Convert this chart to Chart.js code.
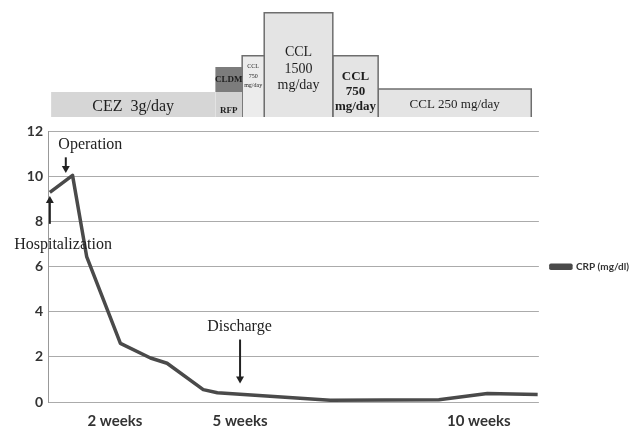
<!DOCTYPE html>
<html>
<head>
<meta charset="utf-8">
<script src="https://cdn.jsdelivr.net/npm/chart.js@4.4.0/dist/chart.umd.min.js"></script>
<style>
  html, body { margin: 0; padding: 0; background: #fff; }
  #wrap { position: relative; width: 630px; height: 428px; }
  #drugs { position: absolute; left: 0; top: 0; }
  #crp { position: absolute; left: 0; top: 118px; }
</style>
</head>
<body>
<div id="wrap">
  <canvas id="drugs" width="630" height="120"></canvas>
  <canvas id="crp" width="630" height="310"></canvas>
</div>
<script>
// CRP course (x = days from admission, y = mg/dl)
const days = [0.3, 4.0, 6.3, 11.8, 16.7, 19.4, 25.3, 27.6, 46.0, 63.7, 71.6, 79.8];
const crpValues = [9.3, 10.05, 6.45, 2.6, 1.95, 1.72, 0.55, 0.41, 0.08, 0.1, 0.38, 0.33];
const seriesLabel = 'CRP (mg/dl)';

const xTickPos = [10.9, 31.3, 70.2];
const xTickLabels = ['2 weeks', '5 weeks', '10 weeks'];

// antibiotic schedule: start/end day and the level band of each box
const drugLabels = [['CEZ  3g/day'], ['RFP'], ['CLDM'], ['CCL', '750', 'mg/day'],
  ['CCL', '1500', 'mg/day'], ['CCL', '750', 'mg/day'], ['CCL 250 mg/day']];
const drugStart = [0.5, 27.3, 27.3, 31.7, 35.3, 46.5, 53.9];
const drugEnd = [27.3, 31.7, 31.7, 35.3, 46.5, 53.9, 78.9];
const drugLow = [0, 0, 1, 0, 0, 0, 0];
const drugHigh = [1, 1, 2, 2.45, 4.17, 2.45, 1.12];

// event annotations
const events = [
  { text: 'Operation', x: 6.9, y: 11.4, ax: 2.9, from: 10.85, to: 10.15 },
  { text: 'Hospitalization', x: 2.45, y: 6.97, ax: 0.3, from: 7.9, to: 9.14 },
  { text: 'Discharge', x: 31.2, y: 3.34, ax: 31.3, from: 2.77, to: 0.82 },
];

const drugStyle = [
  { fill: '#d6d6d6', border: '#d6d6d6', bw: 0, size: 16, weight: 'normal', dy: 2 },
  { fill: '#d2d2d2', border: '#d2d2d2', bw: 0, size: 9, weight: 'bold', dy: 6 },
  { fill: '#7c7c7c', border: '#7c7c7c', bw: 0, size: 9, weight: 'bold', dy: 0 },
  { fill: '#ececec', border: '#6e6e6e', bw: 1.5, size: 6, weight: 'normal', dy: -10, lh: 9.5 },
  { fill: '#e4e4e4', border: '#6e6e6e', bw: 1.5, size: 14, weight: 'normal', dy: 4, lh: 16.5 },
  { fill: '#e4e4e4', border: '#6e6e6e', bw: 1.5, size: 13, weight: 'bold', dy: 5, lh: 15 },
  { fill: '#e4e4e4', border: '#6e6e6e', bw: 1.5, size: 13, weight: 'normal', dy: 2 },
];

const serif = '"Liberation Serif", "DejaVu Serif", serif';
const sans = 'Lato, "Open Sans", sans-serif';

const drugSets = [];
drugLabels.forEach((lbl, i) => {
  const s = drugStart[i], e = drugEnd[i], lo = drugLow[i], hi = drugHigh[i];
  drugSets.push({
    label: lbl.join(' '),
    data: [{ x: s, y: lo }, { x: s, y: hi }, { x: e, y: hi }, { x: e, y: lo }],
    borderColor: drugStyle[i].border,
    borderWidth: drugStyle[i].bw,
    backgroundColor: drugStyle[i].fill,
    fill: { value: lo },
    pointRadius: 0,
    tension: 0,
  });
  if (drugStyle[i].bw > 0) {
    drugSets.push({
      label: lbl.join(' ') + ' base',
      data: [{ x: s, y: lo }, { x: e, y: lo }],
      borderColor: drugStyle[i].border,
      borderWidth: drugStyle[i].bw,
      fill: false,
      pointRadius: 0,
    });
  }
});

const drugText = {
  id: 'drugText',
  afterDatasetsDraw(chart) {
    const { ctx, scales: { x, y } } = chart;
    ctx.save();
    ctx.fillStyle = '#1e1e1e';
    ctx.textAlign = 'center';
    ctx.textBaseline = 'middle';
    drugLabels.forEach((lines, i) => {
      const st = drugStyle[i];
      ctx.font = `${st.weight} ${st.size}px ${serif}`;
      const cx = x.getPixelForValue((drugStart[i] + drugEnd[i]) / 2);
      const cy = (y.getPixelForValue(drugLow[i]) + y.getPixelForValue(drugHigh[i])) / 2 + st.dy;
      const lh = st.lh || st.size;
      lines.forEach((t, k) => {
        ctx.fillText(t, cx, cy + (k - (lines.length - 1) / 2) * lh);
      });
    });
    ctx.restore();
  },
};

new Chart(document.getElementById('drugs'), {
  type: 'line',
  data: { datasets: drugSets },
  options: {
    responsive: false,
    animation: false,
    devicePixelRatio: 1,
    layout: { padding: { left: 48, right: 92, top: 5, bottom: 3 } },
    plugins: { legend: { display: false }, tooltip: { enabled: false } },
    scales: {
      x: { type: 'linear', min: 0, max: 80, display: false },
      y: { min: 0, max: 4.48, display: false },
    },
  },
  plugins: [drugText],
});

function arrow(ctx, x, y1, y2) {
  const dir = y2 > y1 ? 1 : -1;
  ctx.beginPath();
  ctx.moveTo(x, y1);
  ctx.lineTo(x, y2 - dir * 6);
  ctx.stroke();
  ctx.beginPath();
  ctx.moveTo(x - 4, y2 - dir * 7);
  ctx.lineTo(x + 4, y2 - dir * 7);
  ctx.lineTo(x, y2);
  ctx.closePath();
  ctx.fill();
}

const eventMarks = {
  id: 'eventMarks',
  afterDraw(chart) {
    const { ctx, scales: { x, y } } = chart;
    ctx.save();
    ctx.fillStyle = '#222';
    ctx.strokeStyle = '#222';
    ctx.lineWidth = 2;
    ctx.font = `16px ${serif}`;
    ctx.textAlign = 'center';
    ctx.textBaseline = 'middle';
    for (const ev of events) {
      ctx.fillText(ev.text, x.getPixelForValue(ev.x), y.getPixelForValue(ev.y));
      arrow(ctx, x.getPixelForValue(ev.ax), y.getPixelForValue(ev.from), y.getPixelForValue(ev.to));
    }
    ctx.restore();
  },
};

new Chart(document.getElementById('crp'), {
  type: 'line',
  data: {
    datasets: [{
      label: seriesLabel,
      data: days.map((d, i) => ({ x: d, y: crpValues[i] })),
      borderColor: '#4a4a4a',
      backgroundColor: '#4a4a4a',
      borderWidth: 3.5,
      borderJoinStyle: 'round',
      pointRadius: 0,
      tension: 0,
    }],
  },
  options: {
    responsive: false,
    animation: false,
    devicePixelRatio: 1,
    layout: { padding: { left: 0, right: -9, top: 7, bottom: 0 } },
    plugins: {
      tooltip: { enabled: false },
      legend: {
        position: 'right',
        fullSize: false,
        labels: {
          boxWidth: 20,
          boxHeight: 3,
          padding: 12,
          color: '#333',
          font: { family: sans, size: 10, weight: 'bold' },
        },
      },
    },
    scales: {
      x: {
        type: 'linear',
        min: 0,
        max: 80,
        grid: { display: false, drawTicks: false },
        border: { display: false },
        afterBuildTicks: (scale) => { scale.ticks = xTickPos.map(v => ({ value: v })); },
        afterFit: (scale) => { scale.height = 26; },
        ticks: {
          autoSkip: false,
          maxRotation: 0,
          padding: 10,
          color: '#333',
          font: { family: sans, size: 15, weight: 'bold' },
          callback: (v, i) => xTickLabels[i],
        },
      },
      y: {
        min: 0,
        max: 12,
        afterFit: (scale) => { scale.width = 48; },
        grid: { color: '#ababab', lineWidth: 1, drawTicks: false },
        border: { color: '#999' },
        ticks: {
          stepSize: 2,
          padding: 5,
          color: '#333',
          font: { family: sans, size: 14, weight: 'bold' },
        },
      },
    },
  },
  plugins: [eventMarks],
});
</script>
</body>
</html>
